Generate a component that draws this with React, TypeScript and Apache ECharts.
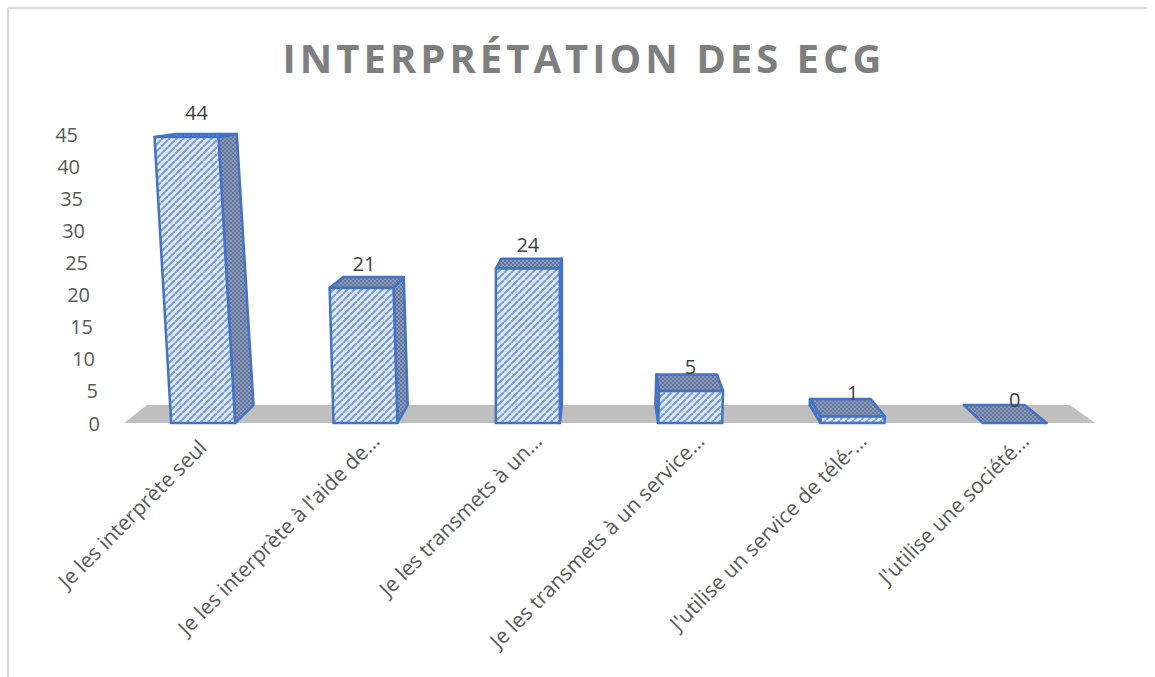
import React, { useEffect, useRef } from "react";
import * as echarts from "echarts";

const titleText = "INTERPRÉTATION DES ECG";
const categories = [
  "Je les interprète seul",
  "Je les interprète à l'aide de…",
  "Je les transmets à un…",
  "Je les transmets à un service…",
  "J'utilise un service de télé-…",
  "J'utilise une société…",
];
const values = [44, 21, 24, 5, 1, 0];
const yTicks = [0, 5, 10, 15, 20, 25, 30, 35, 40, 45];

const FONT = "'Open Sans', sans-serif";
const BLUE = "#4472C4";

function makeStripe() {
  const s = 7;
  const c = document.createElement("canvas");
  c.width = s;
  c.height = s;
  const g = c.getContext("2d")!;
  g.fillStyle = "#dfeafa";
  g.fillRect(0, 0, s, s);
  g.strokeStyle = "#7d9ed8";
  g.lineWidth = 2.2;
  for (const o of [-s, 0, s]) {
    g.beginPath();
    g.moveTo(o, s);
    g.lineTo(o + s, 0);
    g.stroke();
  }
  return c;
}

function makeDark() {
  const s = 4;
  const c = document.createElement("canvas");
  c.width = s;
  c.height = s;
  const g = c.getContext("2d")!;
  g.fillStyle = "#949aa6";
  g.fillRect(0, 0, s, s);
  g.fillStyle = "#5a76ad";
  g.fillRect(0, 0, 2, 2);
  g.fillRect(2, 2, 2, 2);
  return c;
}

export default function App() {
  const ref = useRef<HTMLDivElement>(null);
  useEffect(() => {
    const chart = echarts.init(ref.current!, undefined, { renderer: "svg" });
    const stripe = { image: makeStripe(), repeat: "repeat" };
    const dark = { image: makeDark(), repeat: "repeat" };
    const rich: any = {};
    yTicks.forEach((t) => {
      rich["p" + t] = {
        fontFamily: FONT,
        fontSize: 20,
        color: "#595959",
        padding: [0, Math.round(t * 0.49), 0, 0],
      };
    });
    const catRich: any = {};
    categories.forEach((_, i) => {
      catRich["c" + i] = {
        fontFamily: FONT,
        fontSize: 21,
        color: "#595959",
        padding: i === 0 ? [22, 12, 0, 0] : [28, 0, 0, 0],
      };
    });

    chart.setOption({
      animation: false,
      backgroundColor: "#ffffff",
      title: {
        text: titleText,
        left: 579,
        top: 32,
        textAlign: "center",
        textStyle: { fontFamily: FONT, fontSize: 40, fontWeight: 700, color: "#7f7f7f" },
      },
      graphic: [
        { type: "line", shape: { x1: 8, y1: 8, x2: 1147, y2: 8 }, style: { stroke: "#d9d9d9", lineWidth: 2 } },
        { type: "line", shape: { x1: 8, y1: 8, x2: 8, y2: 677 }, style: { stroke: "#d9d9d9", lineWidth: 2 } },
      ],
      grid: { left: 122, top: 134, width: 974, height: 289 },
      xAxis: {
        type: "category",
        data: categories,
        axisLine: { show: false },
        axisTick: { show: false },
        axisLabel: {
          rotate: 45,
          interval: 0,
          margin: 4,
          formatter: (v: string, i: number) => `{c${i}|${v}}`,
          rich: catRich,
        },
      },
      yAxis: {
        type: "value",
        min: 0,
        max: 45,
        interval: 5,
        axisLine: { show: false },
        axisTick: { show: false },
        splitLine: { show: false },
        axisLabel: {
          margin: 22,
          formatter: (v: number) => `{p${v}|${v}}`,
          rich,
        },
      },
      series: [
        {
          type: "custom",
          coordinateSystem: "cartesian2d",
          silent: true,
          data: [[0, 0]],
          encode: { x: 0, y: 1 },
          renderItem: (params: any) => {
            const c = params.coordSys;
            const b = c.y + c.height;
            return {
              type: "polygon",
              shape: {
                points: [
                  [c.x + 2, b],
                  [c.x + c.width - 1, b],
                  [c.x + c.width - 26, b - 18],
                  [c.x + 25, b - 18],
                ],
              },
              style: { fill: "#bfbfbf" },
            };
          },
        },
        {
          type: "custom",
          coordinateSystem: "cartesian2d",
          silent: true,
          data: values.map((v, i) => [i, v]),
          encode: { x: 0, y: 1 },
          renderItem: (params: any, api: any) => {
            const c = params.coordSys;
            const cat = api.value(0);
            const val = api.value(1);
            const [xc, y0] = api.coord([cat, 0]);
            const yRaw = api.coord([cat, val])[1];
            const band = api.size([1, 0])[0];
            const hw = band * 0.197;
            const backHw = hw * 0.95;
            const hRaw = y0 - yRaw;
            // perspective stretch: tall bars grow slightly towards the viewer
            const yv = yRaw - Math.pow(hRaw / 282, 4) * 3.5;
            const h = y0 - yv;
            const lean = (xc - (c.x + c.width * 0.416)) * h * 0.00018;
            const dx = -(xc - (c.x + c.width * 0.493)) * 0.05;
            const dy = 18 - h * 0.053;
            const fl: number[] = [xc - hw, y0];
            const fr: number[] = [xc + hw, y0];
            const tl: number[] = [xc - hw + lean, yv];
            const tr: number[] = [xc + hw + lean, yv];
            const bl0: number[] = [xc + dx - backHw, y0 - 18];
            const br0: number[] = [xc + dx + backHw, y0 - 18];
            const bl: number[] = [xc + dx - backHw + lean, yv - dy];
            const br: number[] = [xc + dx + backHw + lean, yv - dy];
            const edge = { stroke: BLUE, lineWidth: 2.5, lineJoin: "round" };
            const children: any[] = [];
            if (val > 0) {
              const side = dx > 0 ? [fr, tr, br, br0] : [fl, tl, bl, bl0];
              children.push({
                type: "polygon",
                shape: { points: side },
                style: { fill: dark, ...edge },
              });
            }
            children.push({
              type: "polygon",
              shape: { points: [tl, tr, br, bl] },
              style: { fill: dark, ...edge },
            });
            if (val > 0) {
              children.push({
                type: "polygon",
                shape: { points: [fl, fr, tr, tl] },
                style: { fill: stripe, ...edge },
              });
            }
            children.push({
              type: "text",
              style: {
                text: String(val),
                x: xc + lean * 0.4,
                y: yv - 24,
                fill: "#404040",
                fontFamily: FONT,
                fontSize: 20,
                align: "center",
                verticalAlign: "middle",
              },
            });
            return { type: "group", children };
          },
        },
      ],
    });

    ref.current!.querySelectorAll("text").forEach((t) => {
      if (t.textContent === titleText) (t as any).style.letterSpacing = "4px";
    });
    return () => chart.dispose();
  }, []);
  return <div ref={ref} style={{ position: "absolute", left: 0, top: 0, width: 1155, height: 677 }} />;
}
